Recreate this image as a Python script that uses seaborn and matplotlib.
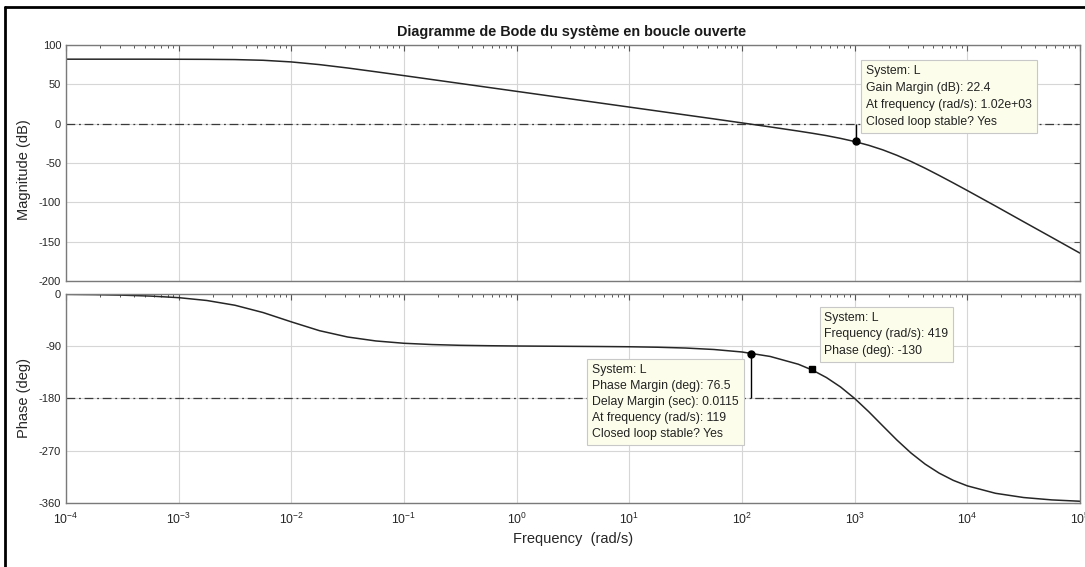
import numpy as np
import pandas as pd
import matplotlib
matplotlib.use("Agg")
import matplotlib.pyplot as plt
import seaborn as sns
from matplotlib.lines import Line2D
from matplotlib.ticker import LogLocator, NullFormatter

freq_exp = [-4, -3.75, -3.5, -3.25, -3, -2.75, -2.5, -2.25, -2, -1.75, -1.5, -1.25,
            -1, -0.75, -0.5, -0.25, 0, 0.25, 0.5, 0.75, 1, 1.25, 1.5, 1.75, 2, 2.25,
            2.5, 2.625, 2.75, 2.875, 3, 3.125, 3.25, 3.375, 3.5, 3.625, 3.75, 3.875,
            4, 4.25, 4.5, 4.75, 5]
mag_db = [82.0, 82.0, 82.0, 82.0, 81.9, 81.8, 81.5, 80.6, 78.5, 75.1, 70.8, 66.0,
          61.1, 56.1, 51.1, 46.1, 41.1, 36.1, 31.1, 26.1, 21.1, 16.1, 11.1, 6.1, 1.0, -4.1,
          -9.4, -12.2, -15.2, -18.7, -22.7, -27.5, -33.3, -40.2, -48.0, -56.6, -65.8, -75.3,
          -85.0, -104.7, -124.7, -144.6, -164.6]
phase_deg = [-0.6, -1.1, -2.0, -3.6, -6.3, -11.2, -19.4, -32.0, -48.0, -63.2, -74.1, -80.9,
             -84.9, -87.1, -88.4, -89.1, -89.6, -89.9, -90.2, -90.5, -90.9, -91.7, -93.1, -95.6, -99.9, -107.6,
             -121.0, -131.1, -144.0, -160.2, -180.0, -202.8, -227.3, -251.6, -273.9, -293.0, -308.6, -321.0,
             -330.5, -343.3, -350.6, -354.7, -357.0]

mag_ticks = [-200, -150, -100, -50, 0, 50, 100]
phase_ticks = [-360, -270, -180, -90, 0]

gm_freq, gm_db = 1.02e3, 22.4
pm_freq, pm_deg = 119, 76.5
pt_freq, pt_phase = 419, -130

gm_text = "System: L\nGain Margin (dB): 22.4\nAt frequency (rad/s): 1.02e+03\nClosed loop stable? Yes"
pm_text = ("System: L\nPhase Margin (deg): 76.5\nDelay Margin (sec): 0.0115\n"
           "At frequency (rad/s): 119\nClosed loop stable? Yes")
pt_text = "System: L\nFrequency (rad/s): 419\nPhase (deg): -130"

sns.set_style("whitegrid")
plt.rcParams["font.family"] = ["Liberation Sans", "DejaVu Sans"]
plt.rcParams["axes.unicode_minus"] = False

df = pd.DataFrame({"freq": 10.0 ** np.array(freq_exp), "mag": mag_db, "phase": phase_deg})

fig = plt.figure(figsize=(10.85, 5.67), dpi=100)
ax1 = fig.add_axes([0.0608, 0.5044, 0.9346, 0.4162])
ax2 = fig.add_axes([0.0608, 0.1129, 0.9346, 0.3686], sharex=ax1)

for ax in (ax1, ax2):
    ax.set_xscale("log")

sns.lineplot(data=df, x="freq", y="mag", ax=ax1, color="#262626", lw=1.1, sort=False, estimator=None)
sns.lineplot(data=df, x="freq", y="phase", ax=ax2, color="#262626", lw=1.1, sort=False, estimator=None)

dashdot = (0, (7, 3, 1.5, 3))
ax1.axhline(0, color="#3a3a3a", lw=0.9, ls=dashdot, zorder=1)
ax2.axhline(-180, color="#3a3a3a", lw=0.9, ls=dashdot, zorder=1)

# marges
ax1.vlines(gm_freq, -gm_db, 0, color="black", lw=1)
ax1.plot([gm_freq], [-gm_db], "o", color="black", ms=5)
ax2.vlines(pm_freq, -180, pm_deg - 180, color="black", lw=1)
ax2.plot([pm_freq], [pm_deg - 180], "o", color="black", ms=5)
ax2.plot([pt_freq], [pt_phase], "s", color="black", ms=5)

box = dict(boxstyle="square,pad=0.4", facecolor="#fdfdec", edgecolor="#c8c8c8", lw=0.8)
ax1.text(0.789, 0.915, gm_text, transform=ax1.transAxes, fontsize=8.8, va="top", ha="left",
         linespacing=1.55, bbox=box, color="#222222")
ax2.text(0.519, 0.665, pm_text, transform=ax2.transAxes, fontsize=8.8, va="top", ha="left",
         linespacing=1.45, bbox=box, color="#222222")
ax2.text(0.748, 0.915, pt_text, transform=ax2.transAxes, fontsize=8.8, va="top", ha="left",
         linespacing=1.5, bbox=box, color="#222222")

for ax, ticks in ((ax1, mag_ticks), (ax2, phase_ticks)):
    ax.set_xlim(1e-4, 1e5)
    ax.set_ylim(ticks[0], ticks[-1])
    ax.set_yticks(ticks)
    ax.xaxis.set_major_locator(LogLocator(base=10, numticks=20))
    ax.xaxis.set_minor_locator(LogLocator(base=10, subs=np.arange(2, 10), numticks=20))
    ax.xaxis.set_minor_formatter(NullFormatter())
    ax.grid(True, which="major", color="#d6d6d6", lw=0.8)
    ax.grid(False, which="minor")
    ax.tick_params(which="both", direction="in", top=True, right=True, colors="#555555",
                   labelcolor="#262626", labelsize=8)
    ax.tick_params(which="major", length=4, width=0.8)
    ax.tick_params(which="minor", length=2.5, width=0.7)
    for s in ax.spines.values():
        s.set_color("#7a7a7a")
        s.set_linewidth(1.0)
    ax.set_xlabel("")

ax1.tick_params(labelbottom=False)
ax2.tick_params(axis="x", pad=6, labelsize=8.8)

ax1.set_ylabel("Magnitude (dB)", fontsize=10.5, color="#262626")
ax2.set_ylabel("Phase (deg)", fontsize=10.5, color="#262626")
ax1.yaxis.set_label_coords(-0.034, 0.47)
ax2.yaxis.set_label_coords(-0.034, 0.5)
ax2.set_xlabel("Frequency  (rad/s)", fontsize=10.5, color="#262626")
ax2.xaxis.set_label_coords(0.5, -0.14)

fig.text(572 / 1085, 1 - 32 / 567, "Diagramme de Bode du système en boucle ouverte",
         ha="center", va="center", fontsize=10.4, fontweight="bold", color="#1a1a1a")

# cadre noir de la capture
fig.add_artist(Line2D([5 / 1085, 5 / 1085], [0, 1 - 7 / 567], color="black", lw=2, transform=fig.transFigure))
fig.add_artist(Line2D([5 / 1085, 1], [1 - 7 / 567, 1 - 7 / 567], color="black", lw=2, transform=fig.transFigure))

fig.savefig("out.png", dpi=100)
